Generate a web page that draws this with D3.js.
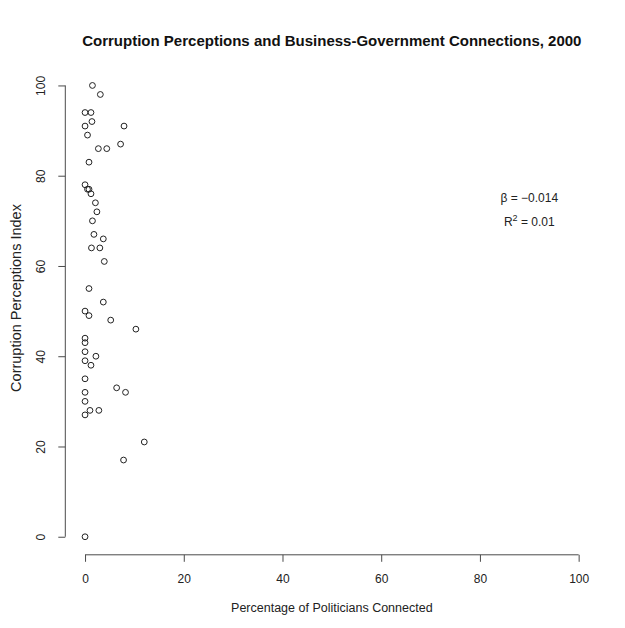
<!DOCTYPE html>
<html>
<head>
<meta charset="utf-8">
<script src="https://cdn.jsdelivr.net/npm/d3@7"></script>
<style>
  html, body { margin: 0; padding: 0; background: #fff; }
  svg { display: block; font-family: "Liberation Sans", Arial, Helvetica, sans-serif; }
</style>
</head>
<body>
<svg id="chart" width="625" height="628"></svg>
<script>
// Percentage of politicians with business connections, per country
const pctConnected = [
  1.5, 3.1, 0.0, 1.2, 1.4, 0.0, 7.9, 0.5, 7.2, 2.7, 4.4, 0.8,
  0.0, 0.5, 0.8, 1.2, 2.1, 2.4, 1.5, 1.8, 3.7, 1.3, 3.0, 3.9,
  0.8, 3.7, 0.0, 0.8, 5.2, 10.3, 0.0, 0.0, 0.0, 2.2, 0.0, 1.2,
  0.0, 6.4, 0.0, 8.2, 0.0, 1.0, 2.8, 0.0, 12.0, 7.8, 0.0
];
// Corruption Perceptions Index (scaled 0-100), same countries
const cpiScore = [
  100, 98, 94, 94, 92, 91, 91, 89, 87, 86, 86, 83,
  78, 77, 77, 76, 74, 72, 70, 67, 66, 64, 64, 61,
  55, 52, 50, 49, 48, 46, 44, 43, 41, 40, 39, 38,
  35, 33, 32, 32, 30, 28, 28, 27, 21, 17, 0
];
const xTicks = [0, 20, 40, 60, 80, 100];
const yTicks = [0, 20, 40, 60, 80, 100];
const slopeText = "β = −0.014";
const r2Value = "0.01";

const svg = d3.select("#chart");

// Plot region (axis domain padded by 4% on each side)
const plot = { left: 65.3, right: 598.4, top: 67.4, bottom: 554.8 };

const x = d3.scaleLinear().domain([-4, 104]).range([plot.left, plot.right]);
const y = d3.scaleLinear().domain([-4, 104]).range([plot.bottom, plot.top]);

const axisColor = "#4a4a4a";

// X axis
const xAxis = svg.append("g")
  .attr("transform", `translate(0,${plot.bottom})`)
  .call(d3.axisBottom(x).tickValues(xTicks).tickSize(7).tickPadding(13).tickSizeOuter(0));
xAxis.select(".domain").remove();
xAxis.append("line")
  .attr("x1", x(xTicks[0])).attr("x2", x(xTicks[xTicks.length - 1]))
  .attr("stroke", axisColor);
xAxis.selectAll(".tick line").attr("stroke", axisColor);
xAxis.selectAll(".tick text")
  .attr("fill", "#222")
  .style("font-size", "12px")
  .style("font-family", "Liberation Sans, Arial, sans-serif");

// Y axis with labels parallel to the axis
const yAxis = svg.append("g")
  .attr("transform", `translate(${plot.left},0)`)
  .call(d3.axisLeft(y).tickValues(yTicks).tickSize(7).tickSizeOuter(0));
yAxis.select(".domain").remove();
yAxis.append("line")
  .attr("y1", y(yTicks[0])).attr("y2", y(yTicks[yTicks.length - 1]))
  .attr("stroke", axisColor);
yAxis.selectAll(".tick line").attr("stroke", axisColor);
yAxis.selectAll(".tick text")
  .attr("fill", "#222")
  .attr("x", 0).attr("dy", null)
  .attr("text-anchor", "middle")
  .attr("transform", "translate(-20,0) rotate(-90)")
  .style("font-size", "12px")
  .style("font-family", "Liberation Sans, Arial, sans-serif");

// Points
svg.append("g")
  .selectAll("circle")
  .data(pctConnected.map((p, i) => ({ p, c: cpiScore[i] })))
  .join("circle")
  .attr("cx", d => x(d.p))
  .attr("cy", d => y(d.c))
  .attr("r", 2.9)
  .attr("fill", "none")
  .attr("stroke", "#222")
  .attr("stroke-width", 1);

// Title
svg.append("text")
  .attr("x", (plot.left + plot.right) / 2)
  .attr("y", 45.5)
  .attr("text-anchor", "middle")
  .attr("font-weight", "bold")
  .attr("font-size", "15px")
  .attr("fill", "#111")
  .text("Corruption Perceptions and Business-Government Connections, 2000");

// Axis titles
svg.append("text")
  .attr("x", (plot.left + plot.right) / 2)
  .attr("y", 612)
  .attr("text-anchor", "middle")
  .attr("font-size", "12.5px")
  .attr("fill", "#222")
  .text("Percentage of Politicians Connected");

svg.append("text")
  .attr("transform", "translate(20.5,298) rotate(-90)")
  .attr("text-anchor", "middle")
  .attr("font-size", "14.5px")
  .attr("fill", "#222")
  .text("Corruption Perceptions Index");

// Regression annotation
svg.append("text")
  .attr("x", x(90))
  .attr("y", y(75) + 4)
  .attr("text-anchor", "middle")
  .attr("font-size", "12px")
  .attr("fill", "#222")
  .text(slopeText);

const r2 = svg.append("text")
  .attr("x", x(90))
  .attr("y", y(69.7) + 4)
  .attr("text-anchor", "middle")
  .attr("font-size", "12px")
  .attr("fill", "#222");
r2.append("tspan").text("R");
r2.append("tspan").attr("dy", -5).attr("font-size", "9px").text("2");
r2.append("tspan").attr("dy", 5).text(" = " + r2Value);
</script>
</body>
</html>
